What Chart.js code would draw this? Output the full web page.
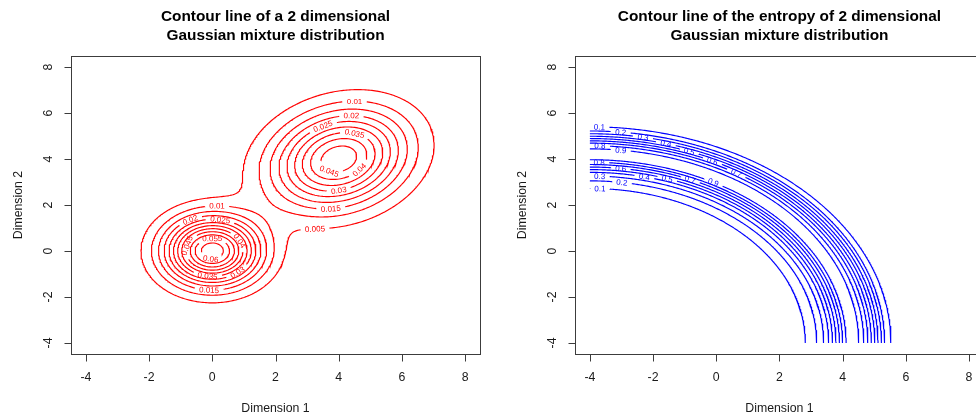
<!DOCTYPE html>
<html>
<head>
<meta charset="utf-8">
<script src="https://cdn.jsdelivr.net/npm/chart.js@4.4.1/dist/chart.umd.min.js"></script>
<style>
    html, body { margin: 0; padding: 0; background: #fff; overflow: hidden; }
    #wrap { position: relative; width: 976px; height: 419px; overflow: hidden; }
    #leftChart { position: absolute; left: 0; top: 0; }
    #rightChart { position: absolute; left: 488px; top: 0; }
</style>
</head>
<body>
<div id="wrap">
    <canvas id="leftChart" width="488" height="419"></canvas>
    <canvas id="rightChart" width="520" height="419"></canvas>
</div>
<script>
// axes
const xTicks = [-4, -2, 0, 2, 4, 6, 8];
const yTicks = [-4, -2, 0, 2, 4, 6, 8];
const axisRange = [-4.48, 8.48];
const gridRange = [-4, 8];

// left panel: the two mixture components
const compWeight = [0.4, 0.6];
const compMeanX = [0, 4];
const compMeanY = [0, 4];
const compSd = [1, 1.414];
const compRho = [0, 0.2];
const densityLevels = [0.005, 0.01, 0.015, 0.02, 0.025, 0.03, 0.035, 0.04, 0.045, 0.05, 0.055, 0.06];

// right panel: entropy arcs around (-4, -4), radii read at both ends
const entropyCenter = [-4, -4];
const entropyLevels = [0.1, 0.2, 0.3, 0.4, 0.5, 0.6, 0.7, 0.8, 0.9];
const innerArcRx = [6.82, 7.18, 7.40, 7.56, 7.68, 7.79, 7.90, 8.00, 8.11];
const innerArcRy = [6.72, 7.05, 7.26, 7.42, 7.54, 7.65, 7.76, 7.86, 7.97];
const outerArcRx = [9.53, 9.33, 9.23, 9.12, 9.02, 8.91, 8.80, 8.67, 8.51];
const outerArcRy = [9.40, 9.22, 9.10, 8.99, 8.89, 8.79, 8.69, 8.58, 8.44];

const FONT = '"Liberation Sans", Arial, sans-serif';
const LABEL_PX = 8;

function density(x, y) {
    let f = 0;
    for (let k = 0; k < compWeight.length; k++) {
        const s = compSd[k], r = compRho[k];
        const dx = (x - compMeanX[k]) / s, dy = (y - compMeanY[k]) / s;
        const q = (dx * dx - 2 * r * dx * dy + dy * dy) / (1 - r * r);
        f += compWeight[k] / (2 * Math.PI * s * s * Math.sqrt(1 - r * r)) * Math.exp(-q / 2);
    }
    return f;
}

// marching squares, segments chained into polylines
function contourLines(gx, gy, z, level) {
    const pos = new Map(), adj = new Map();
    function edge(t, i, j) {
        const k = t + i + '_' + j;
        if (!pos.has(k)) {
            let x2, y2, v2;
            const x1 = gx[i], y1 = gy[j], v1 = z[i][j];
            if (t === 'h') { x2 = gx[i + 1]; y2 = gy[j]; v2 = z[i + 1][j]; }
            else { x2 = gx[i]; y2 = gy[j + 1]; v2 = z[i][j + 1]; }
            const f = (level - v1) / (v2 - v1);
            pos.set(k, { x: x1 + f * (x2 - x1), y: y1 + f * (y2 - y1) });
        }
        return k;
    }
    function link(a, b) {
        if (!adj.has(a)) adj.set(a, new Set());
        if (!adj.has(b)) adj.set(b, new Set());
        adj.get(a).add(b);
        adj.get(b).add(a);
    }
    for (let i = 0; i < gx.length - 1; i++) {
        for (let j = 0; j < gy.length - 1; j++) {
            const a00 = z[i][j] >= level, a10 = z[i + 1][j] >= level;
            const a11 = z[i + 1][j + 1] >= level, a01 = z[i][j + 1] >= level;
            const b = a00 !== a10 ? edge('h', i, j) : null;
            const r = a10 !== a11 ? edge('v', i + 1, j) : null;
            const t = a01 !== a11 ? edge('h', i, j + 1) : null;
            const l = a00 !== a01 ? edge('v', i, j) : null;
            if (b && r && t && l) {
                const mid = (z[i][j] + z[i + 1][j] + z[i + 1][j + 1] + z[i][j + 1]) / 4 >= level;
                if (a00 === mid) { link(b, r); link(t, l); } else { link(l, b); link(r, t); }
            } else {
                const e = [b, r, t, l].filter(Boolean);
                if (e.length === 2) link(e[0], e[1]);
            }
        }
    }
    const lines = [];
    function walk(start) {
        const keys = [start];
        let cur = start;
        while (adj.get(cur).size) {
            const nxt = adj.get(cur).values().next().value;
            adj.get(cur).delete(nxt);
            adj.get(nxt).delete(cur);
            keys.push(nxt);
            cur = nxt;
            if (nxt === start) break;
        }
        const closed = keys.length > 2 && keys[keys.length - 1] === start;
        if (closed) keys.pop();
        if (keys.length > 1) lines.push({ pts: keys.map(k => pos.get(k)), closed: closed });
    }
    for (const [k, s] of adj) if (s.size === 1) walk(k);
    for (const [k, s] of adj) if (s.size > 0) walk(k);
    return lines;
}

function buildPath(chart, pts, closed) {
    const xs = chart.scales.x, ys = chart.scales.y;
    const P = pts.map(p => [xs.getPixelForValue(p.x), ys.getPixelForValue(p.y)]);
    const n = P.length;
    const S = [0];
    const segs = closed ? n : n - 1;
    for (let i = 0; i < segs; i++) {
        const a = P[i], b = P[(i + 1) % n];
        S.push(S[S.length - 1] + Math.hypot(b[0] - a[0], b[1] - a[1]));
    }
    return { pts, P, S, L: S[S.length - 1], closed, n };
}

function at(path, s) {
    const { S, L, closed, n, pts, P } = path;
    s = closed ? ((s % L) + L) % L : Math.max(0, Math.min(L, s));
    let lo = 0, hi = S.length - 1;
    while (hi - lo > 1) {
        const mid = (lo + hi) >> 1;
        if (S[mid] <= s) lo = mid; else hi = mid;
    }
    const f = S[hi] > S[lo] ? (s - S[lo]) / (S[hi] - S[lo]) : 0;
    const a = lo % n, b = hi % n;
    return {
        x: pts[a].x + f * (pts[b].x - pts[a].x),
        y: pts[a].y + f * (pts[b].y - pts[a].y),
        px: P[a][0] + f * (P[b][0] - P[a][0]),
        py: P[a][1] + f * (P[b][1] - P[a][1])
    };
}

function cutPath(path, g1, g2) {
    const { pts, S, L, closed, n } = path;
    const pieces = [];
    if (!closed) {
        if (g1 > 0) {
            const p = [];
            for (let i = 0; i < n && S[i] < g1; i++) p.push(pts[i]);
            p.push(at(path, g1));
            if (p.length > 1) pieces.push(p);
        }
        if (g2 < L) {
            const p = [at(path, g2)];
            for (let i = 0; i < n; i++) if (S[i] > g2) p.push(pts[i]);
            if (p.length > 1) pieces.push(p);
        }
    } else {
        const a = ((g2 % L) + L) % L;
        const b = a + (L - (g2 - g1));
        const vs = [];
        for (let i = 0; i < n; i++) {
            let v = S[i];
            if (v < a) v += L;
            if (v < b) vs.push([v, pts[i]]);
        }
        vs.sort((p, q) => p[0] - q[0]);
        const p = [at(path, a)].concat(vs.map(v => v[1]));
        p.push(at(path, b));
        pieces.push(p);
    }
    return pieces;
}

function rotBox(cx, cy, w, h, ang) {
    const c = Math.abs(Math.cos(ang)), s = Math.abs(Math.sin(ang));
    const hw = (w * c + h * s) / 2, hh = (w * s + h * c) / 2;
    return [cx - hw, cy - hh, cx + hw, cy + hh];
}

function overlaps(a, b) {
    return a[0] < b[2] && b[0] < a[2] && a[1] < b[3] && b[1] < a[3];
}

// R-like "flattest" label placement with a gap cut into the line
function layoutLabels(chart, lines, color) {
    const ctx = chart.ctx;
    ctx.font = LABEL_PX + 'px ' + FONT;
    const boxes = [], labels = [], datasets = [];
    lines.forEach(line => {
        const path = buildPath(chart, line.pts, line.closed);
        const w = ctx.measureText(line.text).width;
        const half = w / 2, gapHalf = half + 4.5;
        let best = null;
        if (path.L > w + 10) {
            const cands = [];
            for (let i = 0; i < path.n; i++) {
                const s = path.S[i];
                if (!path.closed && (s < gapHalf - 1 || s > path.L - gapHalf + 1)) continue;
                const a = at(path, s - half), m = at(path, s), b = at(path, s + half);
                const a1 = Math.atan2(m.py - a.py, m.px - a.px);
                const a2 = Math.atan2(b.py - m.py, b.px - m.px);
                let d = Math.abs(a2 - a1);
                if (d > Math.PI) d = 2 * Math.PI - d;
                let ang = Math.atan2(b.py - a.py, b.px - a.px);
                if (ang > Math.PI / 2) ang -= Math.PI;
                if (ang < -Math.PI / 2) ang += Math.PI;
                cands.push({ s, m, ang, score: Math.round(d * 100 + Math.abs(ang) * 15) });
            }
            cands.sort((p, q) => p.score - q.score || p.m.py - q.m.py);
            for (const c of cands) {
                const box = rotBox(c.m.px, c.m.py, w + 9, LABEL_PX * 1.45, c.ang);
                if (!boxes.some(o => overlaps(o, box))) {
                    best = c;
                    boxes.push(box);
                    break;
                }
            }
        }
        let pieces;
        if (best) {
            labels.push({ x: best.m.x, y: best.m.y, ang: best.ang, text: line.text, color: color });
            pieces = cutPath(path, best.s - gapHalf, best.s + gapHalf);
        } else {
            pieces = [line.closed ? line.pts.concat([line.pts[0]]) : line.pts];
        }
        pieces.forEach(p => datasets.push({
            data: p,
            showLine: true,
            borderColor: color,
            borderWidth: 1.15,
            pointRadius: 0,
            pointHoverRadius: 0,
            fill: false,
            tension: 0
        }));
    });
    return { labels, datasets };
}

const rAxes = {
    id: 'rAxes',
    afterDraw(chart, args, opts) {
        const { ctx, chartArea: a } = chart;
        const x = chart.scales.x, y = chart.scales.y;
        ctx.save();
        ctx.strokeStyle = '#3c3c3c';
        ctx.lineWidth = 1;
        const L = Math.round(a.left) + 0.5, T = Math.round(a.top) + 0.5;
        const R = Math.round(a.right) + 0.5, B = Math.round(a.bottom) + 0.5;
        ctx.strokeRect(L, T, R - L, B - T);
        ctx.beginPath();
        ctx.moveTo(Math.round(x.getPixelForValue(xTicks[0])) + 0.5, B);
        ctx.lineTo(Math.round(x.getPixelForValue(xTicks[xTicks.length - 1])) + 0.5, B);
        xTicks.forEach(v => {
            const px = Math.round(x.getPixelForValue(v)) + 0.5;
            ctx.moveTo(px, B);
            ctx.lineTo(px, B + 7);
        });
        ctx.moveTo(L, Math.round(y.getPixelForValue(yTicks[0])) + 0.5);
        ctx.lineTo(L, Math.round(y.getPixelForValue(yTicks[yTicks.length - 1])) + 0.5);
        yTicks.forEach(v => {
            const py = Math.round(y.getPixelForValue(v)) + 0.5;
            ctx.moveTo(L, py);
            ctx.lineTo(L - 7, py);
        });
        ctx.stroke();

        ctx.fillStyle = '#1a1a1a';
        ctx.font = '12.3px ' + FONT;
        ctx.textAlign = 'center';
        ctx.textBaseline = 'middle';
        xTicks.forEach(v => ctx.fillText(String(v), x.getPixelForValue(v), a.bottom + 24));
        yTicks.forEach(v => {
            ctx.save();
            ctx.translate(a.left - 22.4, y.getPixelForValue(v));
            ctx.rotate(-Math.PI / 2);
            ctx.fillText(String(v), 0, 0);
            ctx.restore();
        });
        ctx.fillText(opts.xTitle, (a.left + a.right) / 2, a.bottom + 54.3);
        ctx.save();
        ctx.translate(a.left - 52.4, (a.top + a.bottom) / 2);
        ctx.rotate(-Math.PI / 2);
        ctx.fillText(opts.yTitle, 0, 0);
        ctx.restore();

        ctx.fillStyle = '#000';
        ctx.font = 'bold 15.4px ' + FONT;
        opts.title.forEach((t, i) => ctx.fillText(t, (a.left + a.right) / 2, 17 + i * 18.3));
        ctx.restore();
    }
};

const contourLabels = {
    id: 'contourLabels',
    afterDatasetsDraw(chart) {
        const list = chart.$contourLabels || [];
        const ctx = chart.ctx;
        ctx.save();
        ctx.font = LABEL_PX + 'px ' + FONT;
        ctx.textAlign = 'center';
        ctx.textBaseline = 'middle';
        list.forEach(l => {
            ctx.save();
            ctx.translate(chart.scales.x.getPixelForValue(l.x), chart.scales.y.getPixelForValue(l.y));
            ctx.rotate(l.ang);
            ctx.fillStyle = l.color;
            ctx.fillText(l.text, 0, 0.5);
            ctx.restore();
        });
        ctx.restore();
    }
};

function makeChart(id, padding, title) {
    return new Chart(document.getElementById(id), {
        type: 'scatter',
        data: { datasets: [] },
        options: {
            responsive: false,
            maintainAspectRatio: false,
            animation: false,
            events: [],
            layout: { padding: padding },
            scales: {
                x: { type: 'linear', min: axisRange[0], max: axisRange[1], display: false },
                y: { type: 'linear', min: axisRange[0], max: axisRange[1], display: false }
            },
            plugins: {
                legend: { display: false },
                tooltip: { enabled: false },
                rAxes: { title: title, xTitle: 'Dimension 1', yTitle: 'Dimension 2' }
            }
        },
        plugins: [rAxes, contourLabels]
    });
}

function densityLines() {
    const gx = [], gy = [];
    const steps = 240;
    for (let i = 0; i <= steps; i++) {
        gx.push(gridRange[0] + (gridRange[1] - gridRange[0]) * i / steps);
        gy.push(gridRange[0] + (gridRange[1] - gridRange[0]) * i / steps);
    }
    const z = gx.map(x => gy.map(y => density(x, y)));
    const out = [];
    densityLevels.forEach(level => {
        contourLines(gx, gy, z, level).forEach(l => out.push({ pts: l.pts, closed: l.closed, text: String(level) }));
    });
    return out;
}

function arcPoints(rx, ry) {
    const pts = [];
    const n = 300;
    for (let i = 0; i <= n; i++) {
        const t = Math.PI / 2 * (1 - i / n);
        pts.push({ x: entropyCenter[0] + rx * Math.cos(t), y: entropyCenter[1] + ry * Math.sin(t) });
    }
    return pts;
}

function entropyLines() {
    const out = [];
    entropyLevels.forEach((level, k) => {
        out.push({ pts: arcPoints(innerArcRx[k], innerArcRy[k]), closed: false, text: String(level) });
        out.push({ pts: arcPoints(outerArcRx[k], outerArcRy[k]), closed: false, text: String(level) });
    });
    return out;
}

const leftChart = makeChart('leftChart', { left: 70.7, right: 7.7, top: 56, bottom: 65 },
    ['Contour line of a 2 dimensional', 'Gaussian mixture distribution']);
const rightChart = makeChart('rightChart', { left: 86.7, right: 23.8, top: 56, bottom: 65 },
    ['Contour line of the entropy of 2 dimensional', 'Gaussian mixture distribution']);

const leftRes = layoutLabels(leftChart, densityLines(), '#ff0000');
leftChart.$contourLabels = leftRes.labels;
leftChart.data.datasets = leftRes.datasets;
leftChart.update();

const rightRes = layoutLabels(rightChart, entropyLines(), '#0000ff');
rightChart.$contourLabels = rightRes.labels;
rightChart.data.datasets = rightRes.datasets;
rightChart.update();
</script>
</body>
</html>
